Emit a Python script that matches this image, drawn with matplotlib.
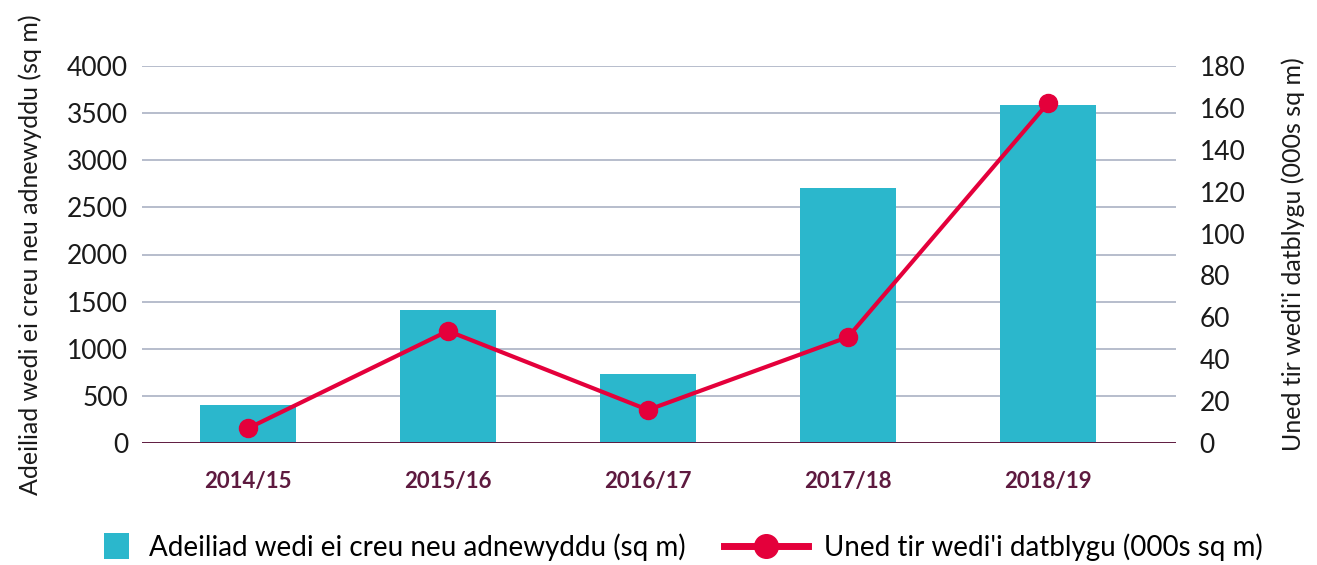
import matplotlib
matplotlib.use("Agg")
import matplotlib.pyplot as plt
from matplotlib.patches import Rectangle
from matplotlib.lines import Line2D
from matplotlib.legend_handler import HandlerPatch

categories = ["2014/15", "2015/16", "2016/17", "2017/18", "2018/19"]
buildings = [400, 1410, 735, 2710, 3590]
land = [7, 53.5, 15.8, 50.6, 162.3]
left_ticks = [0, 500, 1000, 1500, 2000, 2500, 3000, 3500, 4000]
right_ticks = [0, 20, 40, 60, 80, 100, 120, 140, 160, 180]
bar_label = "Adeiliad wedi ei creu neu adnewyddu (sq m)"
line_label = "Uned tir wedi'i datblygu (000s sq m)"
left_ylabel = "Adeiliad wedi ei creu neu adnewyddu (sq m)"
right_ylabel = "Uned tir wedi'i datblygu (000s sq m)"

BAR = "#2bb7cc"
LINE = "#e4003b"
GRID = "#aab2c4"
MAROON = "#5e1a3f"
TEXT = "#1a1a1a"

plt.rcParams['font.family'] = ['Lato', 'DejaVu Sans']

fig = plt.figure(figsize=(13.17, 5.65), dpi=100)
ax = fig.add_axes([142/1317, 1-443/565, (1176-142)/1317, (443-66)/565])
x = list(range(len(categories)))

ax.bar(x, buildings, width=0.48, color=BAR, zorder=2)
ax.set_ylim(0, 4000)
ax.set_xlim(-0.53, 4.64)
ax.set_yticks(left_ticks)
ax.set_yticklabels([str(t) for t in left_ticks], fontsize=19, color=TEXT)
for t in left_ticks[1:]:
    ax.axhline(t, color=GRID, lw=1.2, zorder=1)
ax.axhline(0, color=MAROON, lw=1.4, zorder=3)
ax.set_xticks(x)
ax.set_xticklabels(categories, fontsize=16, fontweight='bold', color=MAROON)
ax.tick_params(axis='both', length=0)
ax.tick_params(axis='x', pad=20)
ax.tick_params(axis='y', pad=10)
for s in ax.spines.values():
    s.set_visible(False)
ax.set_ylabel(left_ylabel, fontsize=18, color=TEXT, labelpad=18)

ax2 = ax.twinx()
ax2.plot(x, land, color=LINE, lw=3, marker='o', ms=13, zorder=4)
ax2.set_ylim(0, 180)
ax2.set_yticks(right_ticks)
ax2.set_yticklabels([str(t) for t in right_ticks], fontsize=19, color=TEXT)
ax2.tick_params(axis='both', length=0)
ax2.tick_params(axis='y', pad=17)
for s in ax2.spines.values():
    s.set_visible(False)
ax2.set_ylabel(right_ylabel, fontsize=18, color=TEXT, labelpad=26)


class SquareHandler(HandlerPatch):
    def create_artists(self, legend, orig_handle, xdescent, ydescent, width, height, fontsize, trans):
        s = height * 1.3
        r = Rectangle((width - s - 2 - xdescent, -ydescent + (height - s) / 2), s, s,
                      facecolor=BAR, edgecolor='none', transform=trans)
        return [r]


bar_handle = Rectangle((0, 0), 1, 1, facecolor=BAR)
line_handle = Line2D([0], [0], color=LINE, lw=5, marker='o', ms=17)
fig.legend([bar_handle, line_handle], [bar_label, line_label],
           handler_map={bar_handle: SquareHandler()},
           loc='center', bbox_to_anchor=(656/1317, 1-547/565), ncol=2,
           frameon=False, fontsize=20, handlelength=3.0, columnspacing=1.4,
           handletextpad=0.6)

fig.savefig("out.png", dpi=100)
